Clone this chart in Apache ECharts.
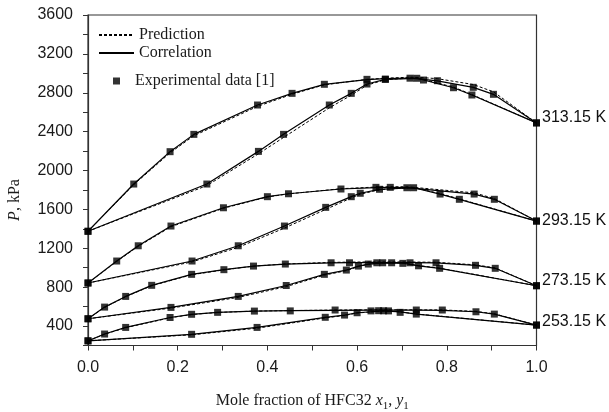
<!DOCTYPE html>
<html>
<head>
<meta charset="utf-8">
<script src="https://cdn.jsdelivr.net/npm/echarts@6/dist/echarts.min.js"></script>
<style>
  html, body { margin: 0; padding: 0; background: #fff; }
  #chart { width: 609px; height: 412px; }
</style>
</head>
<body>
<div id="chart"></div>
<script>
// 313.15 K bubble (x1) and dew (y1) curves
var x313b = [0, 0.102, 0.183, 0.236, 0.378, 0.455, 0.527, 0.622, 0.663, 0.718, 0.748, 0.779, 0.859, 0.904, 1.0];
var e313b = [1375, 1861, 2194, 2372, 2674, 2794, 2887, 2938, 2940, 2950, 2931, 2924, 2856, 2784, 2490];
var c313b = [1375, 1861, 2194, 2372, 2674, 2794, 2887, 2935, 2945, 2952, 2938, 2922, 2856, 2784, 2490];
var p313b = [1375, 1855, 2182, 2358, 2660, 2785, 2882, 2938, 2950, 2960, 2955, 2945, 2885, 2810, 2490];
var x313d = [0, 0.265, 0.380, 0.436, 0.538, 0.587, 0.622, 0.663, 0.733, 0.815, 0.856, 1.0];
var e313d = [1375, 1861, 2197, 2372, 2674, 2794, 2890, 2938, 2949, 2852, 2777, 2490];
var c313d = [1375, 1861, 2197, 2372, 2674, 2794, 2890, 2938, 2949, 2852, 2777, 2490];
var p313d = [1375, 1845, 2172, 2340, 2645, 2775, 2878, 2935, 2955, 2858, 2782, 2490];

// 293.15 K
var x293b = [0, 0.064, 0.112, 0.185, 0.302, 0.400, 0.447, 0.564, 0.642, 0.674, 0.711, 0.861, 0.906, 1.0];
var e293b = [843, 1069, 1226, 1429, 1617, 1731, 1761, 1810, 1827, 1827, 1823, 1758, 1704, 1480];
var c293b = [843, 1069, 1226, 1429, 1617, 1731, 1761, 1810, 1825, 1827, 1825, 1758, 1704, 1480];
var p293b = [843, 1065, 1220, 1422, 1612, 1728, 1760, 1813, 1830, 1833, 1833, 1770, 1712, 1480];
var x293d = [0, 0.232, 0.335, 0.438, 0.530, 0.587, 0.607, 0.650, 0.726, 0.785, 0.828, 1.0];
var e293d = [843, 1069, 1226, 1429, 1621, 1731, 1766, 1807, 1823, 1758, 1704, 1480];
var c293d = [843, 1069, 1226, 1429, 1621, 1731, 1766, 1807, 1823, 1758, 1704, 1480];
var p293d = [843, 1060, 1210, 1408, 1600, 1718, 1756, 1803, 1826, 1762, 1708, 1480];

// 273.15 K
var x273b = [0, 0.037, 0.084, 0.142, 0.231, 0.303, 0.369, 0.44, 0.542, 0.583, 0.644, 0.677, 0.718, 0.776, 0.864, 0.908, 1.0];
var e273b = [475, 595, 705, 819, 932, 980, 1017, 1038, 1051, 1051, 1051, 1051, 1051, 1051, 1025, 994, 815];
var c273b = [475, 595, 705, 819, 932, 980, 1017, 1038, 1050, 1052, 1053, 1053, 1052, 1049, 1025, 994, 815];
var p273b = [475, 592, 702, 815, 928, 978, 1016, 1039, 1055, 1058, 1060, 1060, 1059, 1056, 1030, 998, 815];
var x273d = [0, 0.185, 0.335, 0.442, 0.527, 0.576, 0.603, 0.625, 0.657, 0.702, 0.737, 0.784, 1.0];
var e273d = [475, 592, 705, 817, 932, 976, 1017, 1038, 1051, 1045, 1020, 994, 815];
var c273d = [475, 592, 705, 817, 932, 976, 1017, 1038, 1051, 1048, 1020, 994, 815];
var p273d = [475, 585, 695, 806, 924, 970, 1012, 1035, 1050, 1050, 1022, 996, 815];

// 253.15 K
var x253b = [0, 0.037, 0.084, 0.183, 0.231, 0.289, 0.371, 0.451, 0.551, 0.631, 0.648, 0.67, 0.732, 0.79, 0.865, 0.906, 1.0];
var e253b = [248, 318, 386, 488, 521, 541, 554, 556, 565, 556, 558, 556, 565, 565, 547, 523, 410];
var c253b = [248, 318, 386, 488, 521, 541, 554, 558, 562, 563, 563, 563, 563, 562, 547, 523, 410];
var p253b = [248, 316, 383, 485, 519, 540, 554, 559, 565, 567, 567, 567, 567, 566, 551, 526, 410];
var x253d = [0, 0.231, 0.377, 0.529, 0.572, 0.600, 0.659, 0.696, 0.732, 1.0];
var e253d = [248, 315, 386, 490, 513, 537, 557, 541, 523, 410];
var c253d = [248, 315, 386, 490, 513, 537, 557, 545, 523, 410];
var p253d = [248, 310, 378, 484, 509, 534, 556, 546, 524, 410];

var tempNames = ['313.15 K', '293.15 K', '273.15 K', '253.15 K'];
var tempEndP = [2490, 1480, 815, 410];
var tempLabelShift = [-5, 0, -5, -3];

var serif = 'Liberation Serif';
var sans = 'Liberation Sans';

function zip(xs, ps) {
    return xs.map(function (x, i) { return [x, ps[i]]; });
}

var series = [];
function addCurve(xs, exp, corr, pred) {
    series.push({
        name: 'Prediction', type: 'line', data: zip(xs, pred), symbol: 'none',
        itemStyle: { color: '#000', opacity: 0 },
        lineStyle: { color: '#000', width: 1, type: [3, 2] }, silent: true, z: 2
    });
    series.push({
        name: 'Correlation', type: 'line', data: zip(xs, corr), symbol: 'none',
        itemStyle: { color: '#000', opacity: 0 },
        lineStyle: { color: '#000', width: 1.2 }, silent: true, z: 3
    });
    series.push({
        name: 'Experimental data [1]', type: 'scatter', data: zip(xs, exp), symbol: 'rect',
        symbolSize: 7, itemStyle: { color: '#000' }, clip: false, z: 4
    });
}
addCurve(x313b, e313b, c313b, p313b);
addCurve(x313d, e313d, c313d, p313d);
addCurve(x293b, e293b, c293b, p293b);
addCurve(x293d, e293d, c293d, p293d);
addCurve(x273b, e273b, c273b, p273b);
addCurve(x273d, e273d, c273d, p273d);
addCurve(x253b, e253b, c253b, p253b);
addCurve(x253d, e253d, c253d, p253d);

// temperature labels at x1 = 1
series.push({
    name: 'temps', type: 'scatter', symbol: 'rect', symbolSize: 1, clip: false, silent: true,
    itemStyle: { color: '#000' },
    data: tempEndP.map(function (p, i) {
        return { value: [1, p], name: tempNames[i], label: { offset: [0, tempLabelShift[i]] } };
    }),
    label: {
        show: true, position: 'right', distance: 5,
        formatter: function (d) { return d.name; },
        fontFamily: sans, fontSize: 16, color: '#111', opacity: 1
    },
    z: 5
});

var chart = echarts.init(document.getElementById('chart'));
chart.setOption({
    backgroundColor: '#fff',
    animation: false,
    grid: {
        left: 88, right: 72.5, top: 15, bottom: 66.5, show: true,
        borderColor: '#333', borderWidth: 1.2, containLabel: false, outerBoundsMode: 'none'
    },
    legend: [{
        data: ['Prediction', 'Correlation'],
        orient: 'vertical', left: 93, top: 22, itemWidth: 35, itemHeight: 10, itemGap: 2,
        textStyle: { fontFamily: serif, fontSize: 16, color: '#1a1a1a' }, selectedMode: false
    }, {
        data: [{ name: 'Experimental data [1]', icon: 'rect' }],
        orient: 'vertical', left: 108, top: 68, itemWidth: 7, itemHeight: 7,
        textStyle: { fontFamily: serif, fontSize: 16, color: '#1a1a1a', padding: [0, 0, 0, 10] },
        selectedMode: false
    }],
    xAxis: {
        type: 'value', min: 0, max: 1, interval: 0.1,
        name: 'Mole fraction of HFC32 {i|x}{s|1}, {i|y}{s|1}',
        nameLocation: 'middle', nameGap: 45,
        nameTextStyle: {
            fontFamily: serif, fontSize: 16, color: '#1a1a1a',
            rich: {
                i: { fontFamily: serif, fontSize: 16, fontStyle: 'italic', color: '#1a1a1a' },
                s: { fontFamily: serif, fontSize: 11, color: '#1a1a1a', verticalAlign: 'bottom', padding: [10, 0, 0, 0] }
            }
        },
        axisLine: { lineStyle: { color: '#333', width: 1.2 } },
        axisTick: { show: true, inside: false, length: 5, lineStyle: { color: '#333' } },
        axisLabel: {
            margin: 14, fontFamily: sans, fontSize: 16, color: '#1a1a1a',
            formatter: function (v) { return Math.round(v * 10) % 2 === 0 ? v.toFixed(1) : ''; }
        },
        splitLine: { show: false }
    },
    yAxis: {
        type: 'value', min: 200, max: 3600, interval: 200,
        axisLine: { show: true, lineStyle: { color: '#333', width: 1.2 } },
        axisTick: { show: true, inside: false, length: 5, lineStyle: { color: '#333' } },
        axisLabel: {
            margin: 15, fontFamily: sans, fontSize: 16, color: '#1a1a1a',
            formatter: function (v) { return (v % 400 === 0) ? String(v) : ''; }
        },
        splitLine: { show: false }
    },
    graphic: [{
        type: 'text', x: 15, y: 200, rotation: Math.PI / 2,
        style: {
            text: '{i|P}, kPa', align: 'center', verticalAlign: 'middle',
            font: '16px ' + serif, fill: '#1a1a1a',
            rich: { i: { fontStyle: 'italic', fontFamily: serif, fontSize: 16 } }
        }
    }],
    series: series
});
</script>
</body>
</html>
